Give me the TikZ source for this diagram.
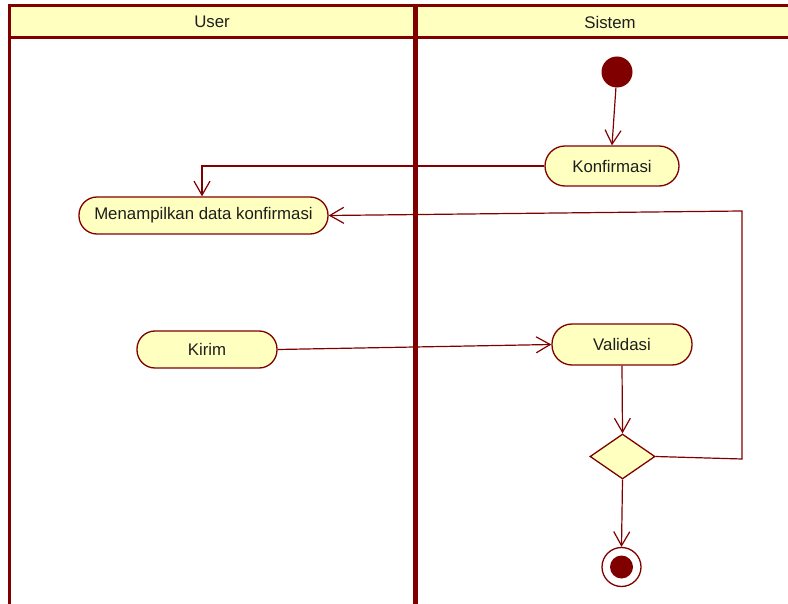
\documentclass[tikz,border=0pt]{standalone}
\usepackage{fontspec}
\setmainfont{Liberation Sans}
\usetikzlibrary{arrows.meta,shapes.geometric}
\definecolor{umlred}{RGB}{128,0,0}
\definecolor{umlfill}{RGB}{255,255,192}
\definecolor{umltext}{RGB}{30,30,30}
\tikzset{
  lanebar/.style={draw=umlred,line width=3pt},
  activity/.style={draw=umlred,fill=umlfill,line width=1.3pt,rectangle,
    rounded corners=18pt,minimum height=38pt,inner sep=0pt,
    text=umltext,font=\fontsize{16.8}{18}\selectfont},
  flow/.style={draw=umlred,line width=1.2pt,
    -{Straight Barb[length=14pt,width=16pt,line width=1.2pt]}},
  decision/.style={diamond,draw=umlred,fill=umlfill,line width=1.3pt,
    minimum width=65pt,minimum height=45pt,inner sep=0pt,aspect=1.44},
  startnode/.style={circle,fill=umlred,minimum size=31pt,inner sep=0pt},
  endnode/.style={circle,draw=umlred,fill=white,line width=1.3pt,minimum size=39pt,inner sep=0pt},
  lanetitle/.style={text=umltext,font=\fontsize{16.8}{18}\selectfont}
}
\begin{document}
\begin{tikzpicture}[x=1pt,y=-1pt]
\useasboundingbox (0,0) rectangle (788,604);
\clip (0,0) rectangle (788,604);
\fill[white] (0,0) rectangle (788,604);

% swimlane frame
\fill[umlfill] (9,6) rectangle (810,38);
\draw[lanebar] (9,6) -- (810,6);
\draw[lanebar] (9,38) -- (810,38);
\draw[lanebar] (9,4.5) -- (9,610);
\draw[draw=umlred,line width=5pt] (415.5,4.5) -- (415.5,610);
\node[lanetitle] (laneuser) at (212,22) {User};
\node[lanetitle] (lanesys) at (610,22) {Sistem};

% activities
\node[startnode] (init) at (617,72) {};
\node[activity,minimum width=134pt,minimum height=40pt,rounded corners=20pt] (konf) at (612,166) {Konfirmasi};
\node[activity,minimum width=249pt,minimum height=37pt] (menu) at (203.5,215.5) {Menampilkan data konfirmasi};
\node[activity,minimum width=140pt,minimum height=37pt] (kirim) at (207,349.5) {Kirim};
\node[activity,minimum width=140pt,minimum height=41pt,rounded corners=20pt] (valid) at (622,344.5) {Validasi};
\node[decision] (dec) at (622.5,456.5) {};
\node[endnode] (final) at (621.5,567) {};
\fill[umlred] (final) circle (11.5pt);

\coordinate (loopb) at (742,459);
\coordinate (loopt) at (742,211);

% control flows
\draw[flow] (init) -- (konf.north);
\draw[flow] (konf.west) -| ([xshift=-1.5pt]menu.north);
\draw[flow] (kirim.east) -- (valid.west);
\draw[flow] (valid.south) -- (dec.north);
\draw[flow] (dec.south) -- (final.north);
\draw[flow] (dec.east) -- (loopb) -- (loopt) -- (menu.east);
\end{tikzpicture}
\end{document}
